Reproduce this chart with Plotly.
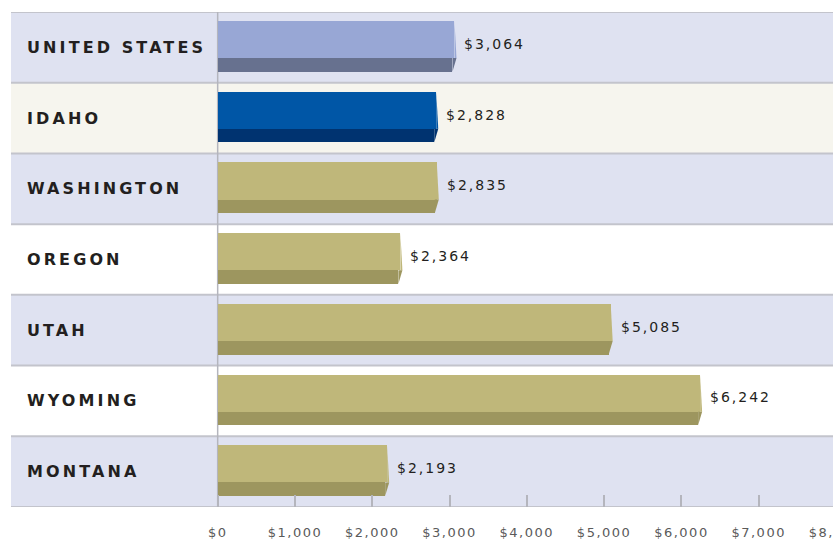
import plotly.graph_objects as go

categories = ["UNITED STATES", "IDAHO", "WASHINGTON", "OREGON", "UTAH", "WYOMING", "MONTANA"]
values = [3064, 2828, 2835, 2364, 5085, 6242, 2193]
value_labels = ["$3,064", "$2,828", "$2,835", "$2,364", "$5,085", "$6,242", "$2,193"]
tick_values = [0, 1000, 2000, 3000, 4000, 5000, 6000, 7000, 8000]
tick_labels = ["$0", "$1,000", "$2,000", "$3,000", "$4,000", "$5,000", "$6,000", "$7,000", "$8,000"]

face_colors = ["#98a7d5", "#0056a6", "#bfb77a", "#bfb77a", "#bfb77a", "#bfb77a", "#bfb77a"]
side_colors = ["#67718f", "#003370", "#9d965f", "#9d965f", "#9d965f", "#9d965f", "#9d965f"]
row_fills = ["#dfe2f1", "#f6f5ee", "#dfe2f1", "#ffffff", "#dfe2f1", "#ffffff", "#dfe2f1"]

pos = list(range(len(categories)))

# bar geometry (in axis units)
TOP = -0.373      # top edge of bar relative to row centre
MID = 0.152       # where the front face meets the lower strip
BOT = 0.345       # bottom edge of lower strip
SLANT = 26        # end-cap slant, in $ units (~2 px)

fig = go.Figure()
# darker lower strip
fig.add_trace(go.Bar(
    orientation="h", x=[v - SLANT for v in values], y=pos,
    width=BOT - TOP, offset=TOP,
    marker=dict(color=side_colors, line=dict(width=0)), hoverinfo="skip",
))
# lighter front face
fig.add_trace(go.Bar(
    orientation="h", x=values, y=pos, width=MID - TOP, offset=TOP,
    marker=dict(color=face_colors, line=dict(width=0)), hoverinfo="skip",
))
# slanted end caps
for i, v in enumerate(values):
    fig.add_trace(go.Scatter(
        x=[v, v + SLANT, v, v], y=[i + TOP, i + MID, i + MID, i + TOP],
        mode="lines", fill="toself", fillcolor=face_colors[i],
        line=dict(width=0, color=face_colors[i]), hoverinfo="skip",
    ))
    fig.add_trace(go.Scatter(
        x=[v - SLANT, v + SLANT, v - SLANT, v - SLANT],
        y=[i + MID, i + MID, i + BOT, i + MID],
        mode="lines", fill="toself", fillcolor=side_colors[i],
        line=dict(width=0, color=side_colors[i]), hoverinfo="skip",
    ))

shapes = []
for i, c in enumerate(row_fills):
    shapes.append(dict(type="rect", xref="paper", yref="y", x0=0, x1=1,
                       y0=i - 0.5, y1=i + 0.5, fillcolor=c, line=dict(width=0),
                       layer="below"))
for i in range(len(categories) + 1):
    shapes.append(dict(type="line", xref="paper", yref="y", x0=0, x1=1,
                       y0=i - 0.5, y1=i - 0.5, line=dict(color="#c3c4cc", width=2),
                       layer="below"))
shapes.append(dict(type="line", xref="x", yref="y", x0=0, x1=0,
                   y0=-0.5, y1=len(categories) - 0.5,
                   line=dict(color="#b4b5bd", width=1.5), layer="below"))

annotations = []
for i, cat in enumerate(categories):
    annotations.append(dict(
        xref="paper", yref="y", x=0, y=i, xanchor="left", yanchor="middle",
        xshift=14, showarrow=False,
        text='<span style="letter-spacing:3.1px">' + cat + "</span>",
        font=dict(family="DejaVu Sans", size=16, color="#231f20", weight="bold"),
    ))
for i, (v, lab) in enumerate(zip(values, value_labels)):
    annotations.append(dict(
        xref="x", yref="y", x=v, y=i - 0.05, xanchor="left", yanchor="middle",
        xshift=8, showarrow=False,
        text='<span style="letter-spacing:2px">' + lab + "</span>",
        font=dict(family="DejaVu Sans", size=14, color="#231f20"),
    ))

fig.update_layout(
    width=838, height=540,
    margin=dict(l=11, r=0, t=12, b=33, autoexpand=False),
    paper_bgcolor="#ffffff", plot_bgcolor="#ffffff",
    barmode="overlay", showlegend=False, bargap=0,
    shapes=shapes, annotations=annotations,
    xaxis=dict(
        range=[-2674, 8026], tickvals=tick_values,
        ticktext=['<span style="letter-spacing:1.5px">' + t + "</span>" for t in tick_labels],
        ticks="inside", ticklen=12, tickwidth=2, tickcolor="#b4b5bd",
        showgrid=False, zeroline=False, showline=False, automargin=False,
        tickfont=dict(family="DejaVu Sans", size=13, color="#5a5a5a"),
        ticklabelstandoff=16, ticklabeloverflow="allow", fixedrange=True,
    ),
    yaxis=dict(
        range=[len(categories) - 0.5, -0.5], showticklabels=False, showgrid=False,
        zeroline=False, showline=False, ticks="", fixedrange=True, automargin=False,
    ),
)

fig.write_html("out.html", config={"displayModeBar": False},
               post_script="document.body.style.margin='0px';document.body.style.overflow='hidden';")
